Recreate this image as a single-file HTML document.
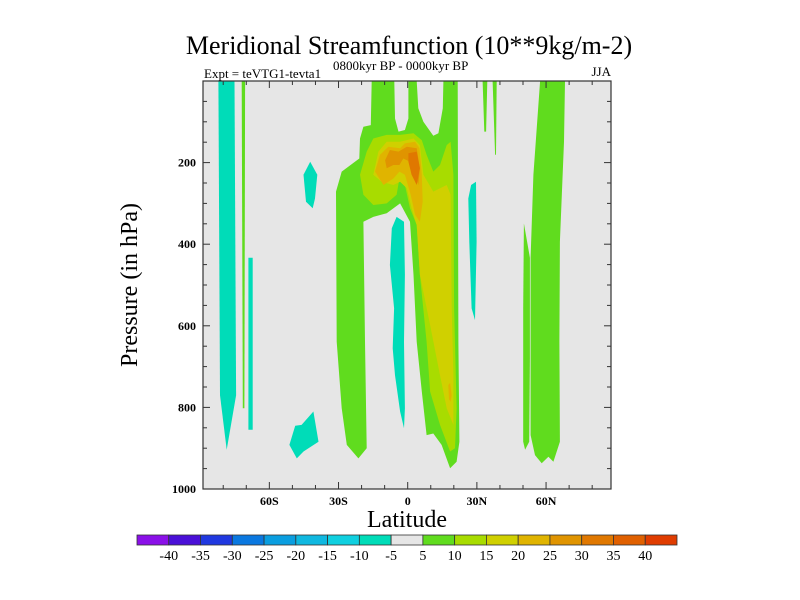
<!DOCTYPE html>
<html><head><meta charset="utf-8"><style>
html,body{margin:0;padding:0;background:#fff;}
svg{display:block;font-family:"Liberation Serif",serif;}
</style></head><body>
<svg id="chart" width="800" height="600" viewBox="0 0 800 600">
<defs><clipPath id="plotclip"><rect x="203" y="81" width="408" height="408"/></clipPath></defs>
<text x="409" y="54" font-size="26" text-anchor="middle">Meridional Streamfunction (10**9kg/m-2)</text>
<text x="204" y="78" font-size="13">Expt = teVTG1-tevta1</text>
<text x="333" y="70" font-size="13">0800kyr BP - 0000kyr BP</text>
<text x="611" y="76" font-size="13" text-anchor="end">JJA</text>
<rect x="203" y="81" width="408" height="408" fill="#e6e6e6"/>
<g id="fields" clip-path="url(#plotclip)"></g>
<rect x="203" y="81" width="408" height="408" fill="none" stroke="#333" stroke-width="1.2"/>
<g id="axes"></g>
<text x="407" y="527" font-size="24" text-anchor="middle">Latitude</text>
<text transform="translate(137,285) rotate(-90)" font-size="24" text-anchor="middle">Pressure (in hPa)</text>
<g id="colorbar"></g>
</svg>
<script>
const levelColors=['#8a10e8','#4a10d8','#2038e0','#0a78e0','#0a9ee0','#10b8e0','#10d0e0','#00dcb8','#e6e6e6','#60dc1e','#a8dc00','#d0d000','#e0b400','#e09400','#e07800','#e06000','#e03c00'];
const colorbarLabels=['-40','-35','-30','-25','-20','-15','-10','-5','5','10','15','20','25','30','35','40'];
const xTickLats=[-60,-30,0,30,60];
const xTickLabels=['60S','30S','0','30N','60N'];
const yTickPressures=[200,400,600,800,1000];
const regionLevels=[7,9,7,7,7,9,10,11,12,12,13,14,7,7,9,9,9,9];
const regionShapes=[
[[-82.1,0],[-75.1,0],[-74.4,770],[-78.5,904],[-81.4,770]],
[[-72.0,0],[-70.5,0],[-70.8,802],[-71.5,802]],
[[-69.1,433],[-67.2,433],[-67.2,855],[-69.1,855]],
[[-42.3,198],[-39.2,230],[-40.2,288],[-41.2,312],[-44.1,296],[-45.2,230]],
[[-40.9,810],[-38.7,884],[-45.2,908],[-48.1,925],[-51.3,892],[-48.8,845],[-46.0,843]],
[[-15.6,0],[-5.8,0],[-5.5,92],[-4.0,124],[-1.2,120],[0.3,92],[0.3,0],[3.9,0],[4.6,67],[6.8,100],[11.1,134],[13.3,128],[15.2,67],[15.5,0],[21.7,0],[22.0,639],[22.4,884],[21.2,933],[18.4,949],[14.7,892],[11.1,864],[8.2,868],[6.1,761],[3.9,639],[2.5,475],[1.0,345],[-3.3,300],[-9.1,324],[-14.9,333],[-19.2,345],[-18.5,639],[-17.8,900],[-21.4,925],[-26.4,892],[-28.6,802],[-30.8,639],[-31.1,271],[-28.6,222],[-21.0,190],[-20.7,141],[-19.2,112],[-16.0,108]],
[[-20.7,230],[-17.8,173],[-14.9,141],[-9.1,132],[-3.3,132],[2.5,128],[6.1,145],[8.2,181],[11.1,222],[14.0,206],[16.9,157],[18.6,149],[19.8,230],[20.1,557],[21.2,802],[20.5,900],[18.4,908],[14.0,843],[9.7,761],[8.2,639],[5.3,475],[3.9,353],[1.0,312],[-1.2,255],[-3.3,230],[-4.8,279],[-9.1,300],[-14.9,304],[-19.2,279]],
[[-14.9,230],[-12.7,173],[-9.1,149],[-3.3,149],[2.5,141],[5.3,157],[6.8,230],[11.1,271],[16.9,255],[18.6,279],[19.1,557],[19.8,721],[19.8,843],[16.9,802],[14.0,721],[9.7,598],[5.3,475],[3.9,353],[1.7,312],[-0.4,263],[-3.3,247],[-6.2,255],[-11.3,247]],
[[-14.2,222],[-12.0,181],[-8.4,161],[-3.3,165],[-1.2,153],[3.2,149],[5.1,165],[6.1,230],[6.5,296],[5.3,345],[3.2,328],[1.3,279],[-1.2,230],[-3.6,222],[-6.2,239],[-10.5,255]],
[[17.6,745],[18.4,740],[19.1,770],[18.6,786],[17.9,780]],
[[-9.8,194],[-7.7,169],[-4.0,173],[-0.4,161],[3.9,165],[5.3,214],[4.6,255],[3.2,230],[1.0,198],[-1.9,190],[-3.6,206],[-6.2,206],[-9.1,214]],
[[0.3,177],[3.9,173],[5.3,214],[3.9,255],[1.7,230],[0.3,198]],
[[27.5,255],[29.6,247],[29.9,394],[29.2,586],[27.7,557],[26.7,394],[26.3,288]],
[[-4.8,333],[-1.6,345],[-1.2,475],[-1.6,639],[-1.2,802],[-1.6,851],[-3.3,810],[-5.5,721],[-6.5,655],[-5.9,557],[-7.7,451],[-6.9,361]],
[[32.5,0],[34.5,0],[34.0,124],[33.2,124]],
[[36.8,0],[38.6,0],[38.3,181],[37.9,181]],
[[57.4,0],[68.2,0],[67.8,149],[66.0,394],[65.8,639],[66.0,884],[63.2,933],[61.0,921],[58.1,937],[55.2,917],[53.3,868],[53.3,433],[54.5,230]],
[[50.4,349],[53.0,433],[53.0,680],[52.7,884],[50.9,904],[50.1,884],[50.1,557]]
];
const X=lat=>407.7+lat*2.306;
const Y=p=>81+p*0.408;
const NS='http://www.w3.org/2000/svg';
const fields=document.getElementById('fields');
regionShapes.forEach((shape,i)=>{
  const poly=document.createElementNS(NS,'polygon');
  poly.setAttribute('points',shape.map(pt=>X(pt[0]).toFixed(1)+','+Y(pt[1]).toFixed(1)).join(' '));
  poly.setAttribute('fill',levelColors[regionLevels[i]]);
  
  
  fields.appendChild(poly);
});
const axes=document.getElementById('axes');
function line(x1,y1,x2,y2){const l=document.createElementNS(NS,'line');l.setAttribute('x1',x1);l.setAttribute('y1',y1);l.setAttribute('x2',x2);l.setAttribute('y2',y2);l.setAttribute('stroke','#333');l.setAttribute('stroke-width','1');


axes.appendChild(l);}
for(let lat=-80;lat<=80;lat+=10){const x=X(lat);const len=(lat%30===0)?7:4;line(x,489,x,489-len);line(x,81,x,81+len);}
for(let p=50;p<1000;p+=50){const y=Y(p);const len=(p%200===0)?7:4;line(203,y,203+len,y);line(611,y,611-len,y);}
xTickLats.forEach((lat,i)=>{const t=document.createElementNS(NS,'text');t.setAttribute('x',X(lat));t.setAttribute('y',505);t.setAttribute('font-size','12');t.setAttribute('font-weight','bold');t.setAttribute('text-anchor','middle');t.textContent=xTickLabels[i];


axes.appendChild(t);});
yTickPressures.forEach(p=>{const t=document.createElementNS(NS,'text');t.setAttribute('x',196);t.setAttribute('y',Y(p)+4);t.setAttribute('font-size','12');t.setAttribute('font-weight','bold');t.setAttribute('text-anchor','end');t.textContent=String(p);


axes.appendChild(t);});
const cb=document.getElementById('colorbar');
const cbX=137,cbW=540/levelColors.length;
levelColors.forEach((c,i)=>{const r=document.createElementNS(NS,'rect');r.setAttribute('x',cbX+i*cbW);r.setAttribute('y',535);r.setAttribute('width',cbW);r.setAttribute('height',10);r.setAttribute('fill',c);r.setAttribute('stroke','#333');r.setAttribute('stroke-width','0.8');


cb.appendChild(r);});
colorbarLabels.forEach((s,i)=>{const t=document.createElementNS(NS,'text');t.setAttribute('x',cbX+(i+1)*cbW);t.setAttribute('y',560);t.setAttribute('font-size','14');t.setAttribute('text-anchor','middle');t.textContent=s;


cb.appendChild(t);});
</script>
</body></html>
